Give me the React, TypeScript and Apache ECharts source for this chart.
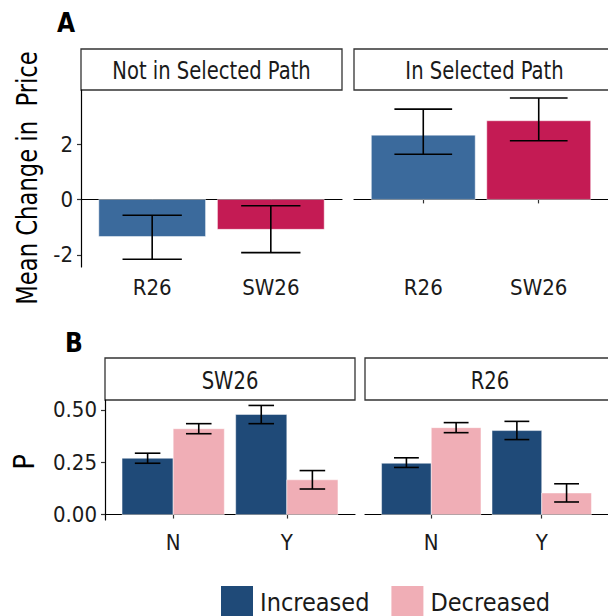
import React, { useEffect, useRef } from "react";
import * as echarts from "echarts";

// ---------- Data ----------
// Panel A: mean change in price
const facetsA = ["Not in Selected Path", "In Selected Path"];
const catsA = ["R26", "SW26"];
const meanA = [
  [-1.34, -1.08],
  [2.32, 2.84],
];
const lowA = [
  [-2.16, -1.92],
  [1.63, 2.12],
];
const highA = [
  [-0.57, -0.23],
  [3.26, 3.66],
];
const ticksA = [-2, 0, 2];

// Panel B: proportion P
const facetsB = ["SW26", "R26"];
const catsB = ["N", "Y"];
const groupsB = ["Increased", "Decreased"];
// [facet][group][category]
const pB = [
  [
    [0.269, 0.478],
    [0.41, 0.166],
  ],
  [
    [0.245, 0.401],
    [0.415, 0.103],
  ],
];
const lowB = [
  [
    [0.245, 0.434],
    [0.386, 0.122],
  ],
  [
    [0.225, 0.358],
    [0.391, 0.06],
  ],
];
const highB = [
  [
    [0.293, 0.521],
    [0.434, 0.21],
  ],
  [
    [0.271, 0.445],
    [0.439, 0.147],
  ],
];
const ticksB = [0, 0.25, 0.5];

const colorsA = ["#3b6a9c", "#c41b54"];
const colorsB = ["#1f4a78", "#f0aeb6"];

const FONT = "'DejaVu Sans Condensed', 'Liberation Sans Narrow', sans-serif";

export default function App() {
  const ref = useRef<HTMLDivElement>(null);
  useEffect(() => {
    if (!ref.current) return;
    const chart = echarts.init(ref.current, null, { renderer: "svg" });

    const gridsA = [
      { left: 81, top: 90, width: 261, height: 177 },
      { left: 354, top: 90, width: 261, height: 177 },
    ];
    const gridsB = [
      { left: 105, top: 400, width: 250, height: 120 },
      { left: 365, top: 400, width: 250, height: 120 },
    ];
    const grids = [...gridsA, ...gridsB];

    const xAxes: any[] = [];
    const yAxes: any[] = [];
    const series: any[] = [];

    const axisLine = { show: true, lineStyle: { color: "#000", width: 1.2 } };
    const axisTick = (vals: number[]) => ({
      show: true,
      length: 4,
      customValues: vals,
      lineStyle: { color: "#333", width: 1.2 },
    });

    // Panel A axes
    facetsA.forEach((_, f) => {
      xAxes.push({
        type: "value",
        gridIndex: f,
        min: 0.4,
        max: 2.6,
        splitLine: { show: false },
        axisLine,
        axisTick: axisTick([1, 2]),
        axisLabel: {
          customValues: [1, 2],
          formatter: (v: number) => catsA[Math.round(v) - 1] ?? "",
          fontFamily: FONT,
          fontSize: 22,
          color: "#1a1a1a",
          margin: 9,
        },
      });
      yAxes.push({
        type: "value",
        gridIndex: f,
        min: -2.44,
        max: 3.95,
        splitLine: { show: false },
        axisLine: { ...axisLine, show: f === 0 },
        axisTick: { ...axisTick(ticksA), show: f === 0 },
        axisLabel: {
          show: f === 0,
          customValues: ticksA,
          formatter: (v: number) => (v < 0 ? "-" + Math.abs(v) : String(v)),
          fontFamily: FONT,
          fontSize: 22,
          color: "#1a1a1a",
          margin: 8,
        },
      });
    });

    // Panel B axes
    facetsB.forEach((_, f) => {
      xAxes.push({
        type: "value",
        gridIndex: 2 + f,
        min: 0.4,
        max: 2.6,
        splitLine: { show: false },
        axisLine,
        axisTick: axisTick([1, 2]),
        axisLabel: {
          customValues: [1, 2],
          formatter: (v: number) => catsB[Math.round(v) - 1] ?? "",
          fontFamily: FONT,
          fontSize: 22,
          color: "#1a1a1a",
          margin: 11,
        },
      });
      yAxes.push({
        type: "value",
        gridIndex: 2 + f,
        min: -0.026,
        max: 0.547,
        splitLine: { show: false },
        axisLine: { ...axisLine, show: f === 0 },
        axisTick: { ...axisTick(ticksB), show: f === 0 },
        axisLabel: {
          show: f === 0,
          customValues: ticksB,
          formatter: (v: number) => v.toFixed(2),
          fontFamily: FONT,
          fontSize: 22,
          color: "#1a1a1a",
          margin: 8,
        },
      });
    });

    const barRender = (halfW: number) => (params: any, api: any) => {
      const x = api.value(0);
      const y = api.value(1);
      const p1 = api.coord([x - halfW, y]);
      const p0 = api.coord([x + halfW, 0]);
      return {
        type: "rect",
        shape: {
          x: p1[0],
          y: Math.min(p1[1], p0[1]),
          width: p0[0] - p1[0],
          height: Math.abs(p0[1] - p1[1]),
        },
        style: { fill: api.visual("color"), stroke: "rgba(255,255,255,0.6)", lineWidth: 0.8 },
      };
    };
    const errRender = (halfW: number) => (params: any, api: any) => {
      const x = api.value(0);
      const lo = api.value(1);
      const hi = api.value(2);
      const a = api.coord([x, lo]);
      const b = api.coord([x, hi]);
      const l1 = api.coord([x - halfW, lo]);
      const r1 = api.coord([x + halfW, lo]);
      const l2 = api.coord([x - halfW, hi]);
      const r2 = api.coord([x + halfW, hi]);
      const st = { stroke: "#000", lineWidth: 1.6 };
      return {
        type: "group",
        children: [
          { type: "line", shape: { x1: a[0], y1: a[1], x2: b[0], y2: b[1] }, style: st },
          { type: "line", shape: { x1: l1[0], y1: l1[1], x2: r1[0], y2: r1[1] }, style: st },
          { type: "line", shape: { x1: l2[0], y1: l2[1], x2: r2[0], y2: r2[1] }, style: st },
        ],
      };
    };

    // Panel A series
    facetsA.forEach((_, f) => {
      catsA.forEach((c, i) => {
        series.push({
          type: "custom",
          name: "A-" + c,
          xAxisIndex: f,
          yAxisIndex: f,
          itemStyle: { color: colorsA[i] },
          renderItem: barRender(0.45),
          data: [[i + 1, meanA[f][i]]],
          encode: { x: 0, y: 1 },
          z: 2,
        });
      });
      series.push({
        type: "custom",
        name: "errA" + f,
        xAxisIndex: f,
        yAxisIndex: f,
        renderItem: errRender(0.25),
        data: catsA.map((_, i) => [i + 1, lowA[f][i], highA[f][i]]),
        encode: { x: 0, y: [1, 2] },
        z: 3,
      });
    });

    // Panel B series
    facetsB.forEach((_, f) => {
      groupsB.forEach((g, gi) => {
        const off = gi === 0 ? -0.225 : 0.225;
        series.push({
          type: "custom",
          name: g,
          xAxisIndex: 2 + f,
          yAxisIndex: 2 + f,
          itemStyle: { color: colorsB[gi] },
          renderItem: barRender(0.225),
          data: catsB.map((_, i) => [i + 1 + off, pB[f][gi][i]]),
          encode: { x: 0, y: 1 },
          z: 2,
        });
        series.push({
          type: "custom",
          name: "errB" + f + gi,
          xAxisIndex: 2 + f,
          yAxisIndex: 2 + f,
          renderItem: errRender(0.1125),
          data: catsB.map((_, i) => [i + 1 + off, lowB[f][gi][i], highB[f][gi][i]]),
          encode: { x: 0, y: [1, 2] },
          z: 3,
        });
      });
    });

    const strip = (x: number, y: number, w: number, h: number, label: string) => ({
      type: "group",
      children: [
        {
          type: "rect",
          shape: { x, y, width: w, height: h },
          style: { fill: "#fff", stroke: "#333", lineWidth: 1.3 },
        },
        {
          type: "text",
          x: x + w / 2,
          y: y + h / 2 + 1,
          scaleX: 0.87,
          style: {
            text: label,
            fontFamily: FONT,
            fontSize: 25,
            fill: "#1a1a1a",
            align: "center",
            verticalAlign: "middle",
          },
        },
      ],
    });

    chart.setOption({
      animation: false,
      grid: grids,
      xAxis: xAxes,
      yAxis: yAxes,
      series,
      legend: {
        data: groupsB.map((g, i) => ({ name: g, icon: "rect", itemStyle: { color: colorsB[i] } })),
        left: 216,
        top: 581,
        itemWidth: 32,
        itemHeight: 32,
        itemGap: 22,
        selectedMode: false,
        textStyle: { fontFamily: FONT, fontSize: 25, color: "#1a1a1a", padding: [6, 0, 0, 2] },
      },
      graphic: [
        strip(81, 49, 261, 41, facetsA[0]),
        strip(354, 49, 261, 41, facetsA[1]),
        strip(105, 358, 250, 42, facetsB[0]),
        strip(365, 358, 250, 42, facetsB[1]),
        {
          type: "text",
          x: 27,
          y: 178,
          rotation: Math.PI / 2,
          scaleX: 0.87,
          style: {
            text: "Mean Change in  Price",
            fontFamily: FONT,
            fontSize: 29,
            fill: "#000",
            align: "center",
            verticalAlign: "middle",
          },
        },
        {
          type: "text",
          x: 24,
          y: 462,
          rotation: Math.PI / 2,
          style: {
            text: "P",
            fontFamily: FONT,
            fontSize: 29,
            fill: "#000",
            align: "center",
            verticalAlign: "middle",
          },
        },
        {
          type: "text",
          left: 57,
          top: 10,
          style: { text: "A", fontFamily: FONT, fontSize: 26, fontWeight: "bold", fill: "#000" },
        },
        {
          type: "text",
          left: 65,
          top: 330,
          style: { text: "B", fontFamily: FONT, fontSize: 26, fontWeight: "bold", fill: "#000" },
        },
      ],
    });
    return () => chart.dispose();
  }, []);
  return <div ref={ref} style={{ width: 608, height: 616, position: "absolute", left: 0, top: 0 }} />;
}
